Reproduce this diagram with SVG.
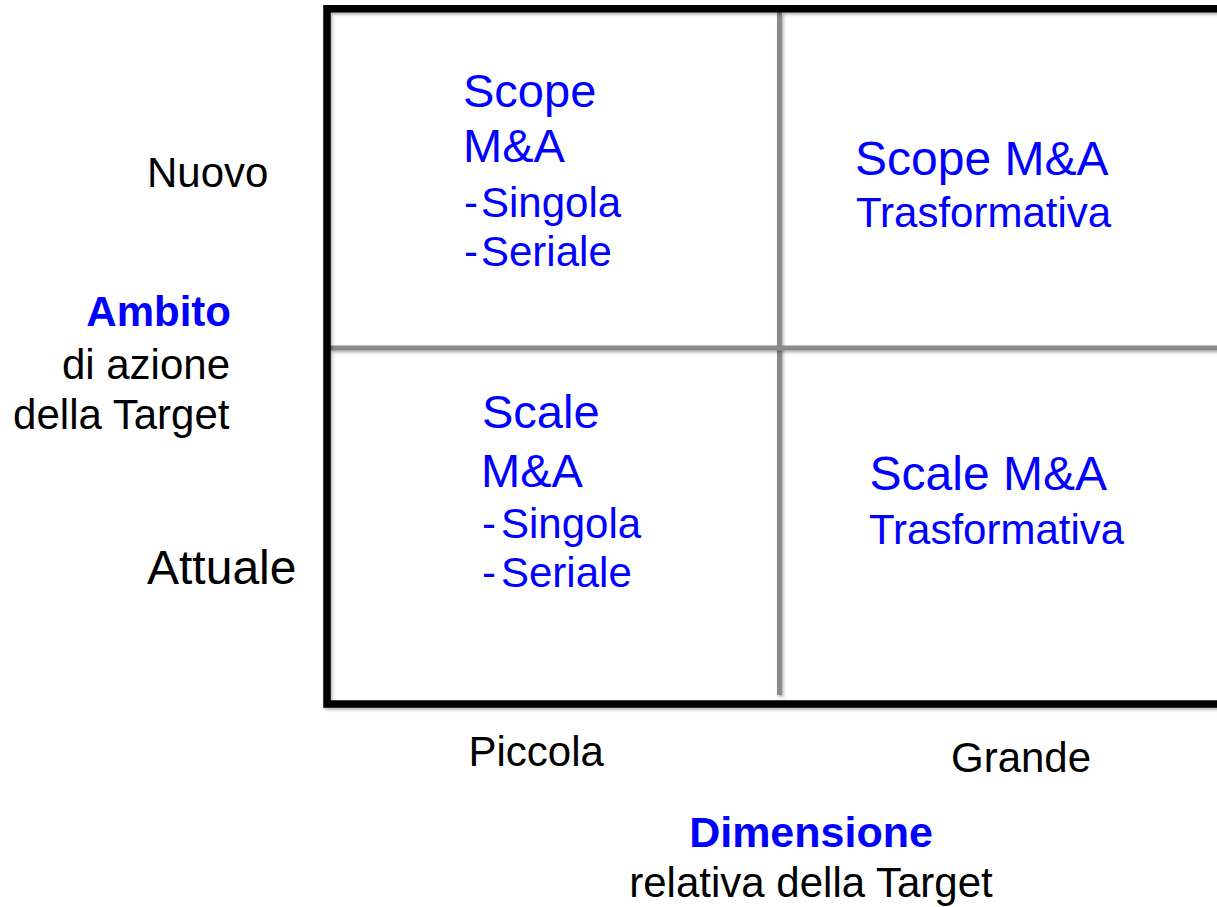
<svg xmlns="http://www.w3.org/2000/svg" width="1217" height="907" viewBox="0 0 1217 907">
  <style>
    text { font-family: "Liberation Sans", Arial, sans-serif; }
    .blue { fill: #0000ff; }
    .blk { fill: #000000; }
    .t48 { font-size: 48px; }
    .t47 { font-size: 47px; }
    .t42 { font-size: 42px; }
    .b { font-weight: bold; }
    .frame { fill: none; stroke: #000; stroke-width: 7.5; stroke-linejoin: miter; }
    .div { fill: none; stroke: #8a8a8a; stroke-width: 5; }
  </style>
  <defs>
    <filter id="sh" filterUnits="userSpaceOnUse" x="0" y="0" width="1217" height="907">
      <feDropShadow dx="1.5" dy="2" stdDeviation="1.5" flood-color="#000" flood-opacity="0.3"/>
    </filter>
  </defs>
  <rect width="1217" height="907" fill="#ffffff"/>

  <g id="grid">
    <path class="div" filter="url(#sh)" d="M779.5 12 V695"/>
    <path class="div" filter="url(#sh)" d="M330 348 H1230"/>
    <path class="frame" filter="url(#sh)" d="M1240 8.8 H327 V704 H1240"/>
  </g>

  <g id="q-scope-small">
    <text class="blue t47" x="463" y="107">Scope</text>
    <text class="blue t47" x="463" y="162">M&amp;A</text>
    <text class="blue t42" x="464" y="217">-</text>
    <text class="blue t42" x="481" y="217">Singola</text>
    <text class="blue t42" x="464" y="266">-</text>
    <text class="blue t42" x="481" y="266">Seriale</text>
  </g>

  <g id="q-scope-large">
    <text class="blue t48" x="855" y="175">Scope M&amp;A</text>
    <text class="blue t42" x="856" y="227">Trasformativa</text>
  </g>

  <g id="q-scale-small">
    <text class="blue t47" x="482" y="428">Scale</text>
    <text class="blue t47" x="481" y="487">M&amp;A</text>
    <text class="blue t42" x="482" y="538">-</text>
    <text class="blue t42" x="501" y="538">Singola</text>
    <text class="blue t42" x="482" y="587">-</text>
    <text class="blue t42" x="501" y="587">Seriale</text>
  </g>

  <g id="q-scale-large">
    <text class="blue t48" x="869.5" y="490">Scale M&amp;A</text>
    <text class="blue t42" x="869" y="544">Trasformativa</text>
  </g>

  <g id="y-axis">
    <text class="blk t42" x="147" y="187">Nuovo</text>
    <text class="blue t42 b" x="231" y="326" text-anchor="end">Ambito</text>
    <text class="blk t42" x="230" y="379" text-anchor="end">di azione</text>
    <text class="blk t42" x="229.5" y="429" text-anchor="end">della Target</text>
    <text class="blk t48" x="147" y="584">Attuale</text>
  </g>

  <g id="x-axis">
    <text class="blk t42" x="468.5" y="766">Piccola</text>
    <text class="blk t42" x="951" y="772">Grande</text>
    <text class="blue t42 b" x="811" y="847" text-anchor="middle" style="font-size:43px">Dimensione</text>
    <text class="blk t42" x="811" y="897" text-anchor="middle">relativa della Target</text>
  </g>
</svg>
